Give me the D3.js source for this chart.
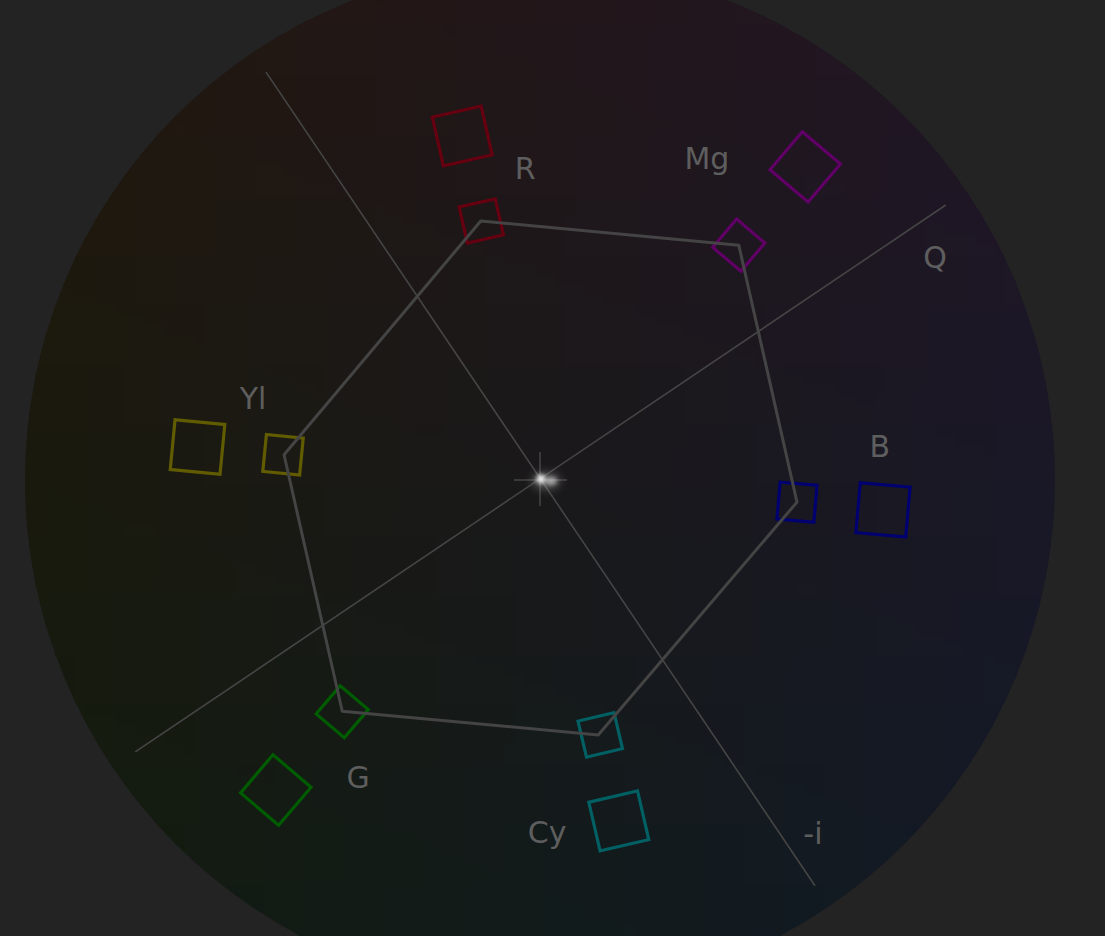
<!DOCTYPE html>
<html>
<head>
<meta charset="utf-8">
<script src="https://cdn.jsdelivr.net/npm/d3@7"></script>
<style>
  html, body { margin: 0; padding: 0; background: #232323; }
  svg { display: block; }
</style>
</head>
<body>
<script>
// ---- Data (U,V chroma coordinates, normalised to scope radius) ----
const colorNames = ["R", "Mg", "B", "Cy", "G", "Yl"];
const traceU = [-0.115, 0.386, 0.499, 0.113, -0.384, -0.497];
const traceV = [0.503, 0.456, -0.043, -0.495, -0.449, 0.049];
const target75U = [-0.114, 0.386, 0.499, 0.117, -0.384, -0.499];
const target75V = [0.503, 0.456, -0.043, -0.495, -0.450, 0.049];
const target100U = [-0.151, 0.515, 0.666, 0.153, -0.513, -0.665];
const target100V = [0.668, 0.608, -0.058, -0.662, -0.602, 0.064];
const targetColors = ["#660010", "#600066", "#000070", "#006064", "#005c00", "#625c00"];
const labelU = [-0.029, 0.324, 0.660, 0.014, -0.353, -0.557];
const labelV = [0.604, 0.625, 0.066, -0.685, -0.577, 0.159];
const axisNames = ["-i", "Q"];
const axisStartU = [-0.532, -0.786];
const axisStartV = [0.792, -0.528];
const axisEndU = [0.534, 0.788];
const axisEndV = [-0.788, 0.534];
const axisLabelU = [0.530, 0.767];
const axisLabelV = [-0.687, 0.433];

// ---- Layout ----
const W = 1105, H = 936;
const cx = 540, cy = 480, R = 515;
const x = d3.scaleLinear().domain([-1, 1]).range([cx - R, cx + R]);
const y = d3.scaleLinear().domain([-1, 1]).range([cy + R, cy - R]);

const svg = d3.select("body").append("svg").attr("width", W).attr("height", H);
svg.append("rect").attr("width", W).attr("height", H).attr("fill", "#232323");

const defs = svg.append("defs");
defs.append("clipPath").attr("id", "scopeClip")
  .append("circle").attr("cx", cx).attr("cy", cy).attr("r", R);

const blur = defs.append("filter").attr("id", "glow").attr("x", "-200%").attr("y", "-200%")
  .attr("width", "500%").attr("height", "500%");
blur.append("feGaussianBlur").attr("stdDeviation", 5);
const blur2 = defs.append("filter").attr("id", "glowSmall").attr("x", "-200%").attr("y", "-200%")
  .attr("width", "500%").attr("height", "500%");
blur2.append("feGaussianBlur").attr("stdDeviation", 2);

// ---- Chroma background (colour varies with U,V) ----
const base = [25.5, 24.5, 26];
const uVec = [0, -1, 13];
const vVec = [9, -2.5, -0.5];
function chroma(u, v) {
  const c = base.map((b, i) => Math.max(0, Math.min(255, Math.round(b + u * uVec[i] + v * vVec[i]))));
  return `rgb(${c[0]},${c[1]},${c[2]})`;
}
const cell = 10;
const cells = [];
for (let px = cx - R; px < cx + R; px += cell) {
  for (let py = cy - R; py < cy + R; py += cell) {
    cells.push({ px, py, u: x.invert(px + cell / 2), v: y.invert(py + cell / 2) });
  }
}
const bg = svg.append("g").attr("clip-path", "url(#scopeClip)");
bg.selectAll("rect").data(cells).join("rect")
  .attr("x", d => d.px).attr("y", d => d.py)
  .attr("width", cell + 0.6).attr("height", cell + 0.6)
  .attr("shape-rendering", "crispEdges")
  .attr("fill", d => chroma(d.u, d.v));

// ---- I / Q axes ----
const axes = axisNames.map((n, i) => ({
  name: n, u1: axisStartU[i], v1: axisStartV[i], u2: axisEndU[i], v2: axisEndV[i],
  lu: axisLabelU[i], lv: axisLabelV[i]
}));
svg.append("g").selectAll("line").data(axes).join("line")
  .attr("x1", d => x(d.u1)).attr("y1", d => y(d.v1))
  .attr("x2", d => x(d.u2)).attr("y2", d => y(d.v2))
  .attr("stroke", "#454545").attr("stroke-width", 1.6);

// ---- Centre crosshair + glow ----
const centre = svg.append("g");
centre.append("line").attr("x1", x(0)).attr("x2", x(0)).attr("y1", y(0) - 28).attr("y2", y(0) + 26)
  .attr("stroke", "#444444").attr("stroke-width", 1.5);
centre.append("line").attr("x1", x(0) - 26).attr("x2", x(0) + 27).attr("y1", y(0)).attr("y2", y(0))
  .attr("stroke", "#444444").attr("stroke-width", 1.5);
centre.append("ellipse").attr("cx", x(0) + 6).attr("cy", y(0) + 1).attr("rx", 14).attr("ry", 8)
  .attr("fill", "#9a9a9a").attr("opacity", 0.5).attr("filter", "url(#glow)");
centre.append("ellipse").attr("cx", x(0) + 11).attr("cy", y(0) + 1).attr("rx", 6).attr("ry", 4)
  .attr("fill", "#dddddd").attr("opacity", 0.6).attr("filter", "url(#glowSmall)");
centre.append("circle").attr("cx", x(0) + 1).attr("cy", y(0) - 1).attr("r", 4.5)
  .attr("fill", "#ffffff").attr("opacity", 0.9).attr("filter", "url(#glowSmall)");

// ---- Target boxes ----
function boxes(us, vs, size) {
  return colorNames.map((n, i) => ({
    name: n, u: us[i], v: vs[i], size, color: targetColors[i],
    angle: Math.atan2(vs[i], us[i]) * 180 / Math.PI
  }));
}
const allBoxes = boxes(target100U, target100V, 50).concat(boxes(target75U, target75V, 37));
svg.append("g").selectAll("rect").data(allBoxes).join("rect")
  .attr("x", d => -d.size / 2).attr("y", d => -d.size / 2)
  .attr("width", d => d.size).attr("height", d => d.size)
  .attr("transform", d => `translate(${x(d.u)},${y(d.v)}) rotate(${-d.angle})`)
  .attr("fill", "none").attr("stroke", d => d.color).attr("stroke-width", 3.2);

// ---- Trace polygon ----
const tracePts = traceU.map((u, i) => [x(u), y(traceV[i])]);
svg.append("path")
  .attr("d", d3.line().curve(d3.curveLinearClosed)(tracePts))
  .attr("fill", "none").attr("stroke", "#444444").attr("stroke-width", 3)
  .attr("stroke-linejoin", "round");

// ---- Labels ----
const labels = colorNames.map((n, i) => ({ text: n, u: labelU[i], v: labelV[i] }))
  .concat(axes.map(a => ({ text: a.name, u: a.lu, v: a.lv })));
svg.append("g").selectAll("text").data(labels).join("text")
  .attr("x", d => x(d.u)).attr("y", d => y(d.v))
  .attr("text-anchor", "middle").attr("dominant-baseline", "central")
  .attr("font-family", "DejaVu Sans, sans-serif").attr("font-size", 30)
  .attr("fill", "#5e5e5e")
  .text(d => d.text);
</script>
</body>
</html>
